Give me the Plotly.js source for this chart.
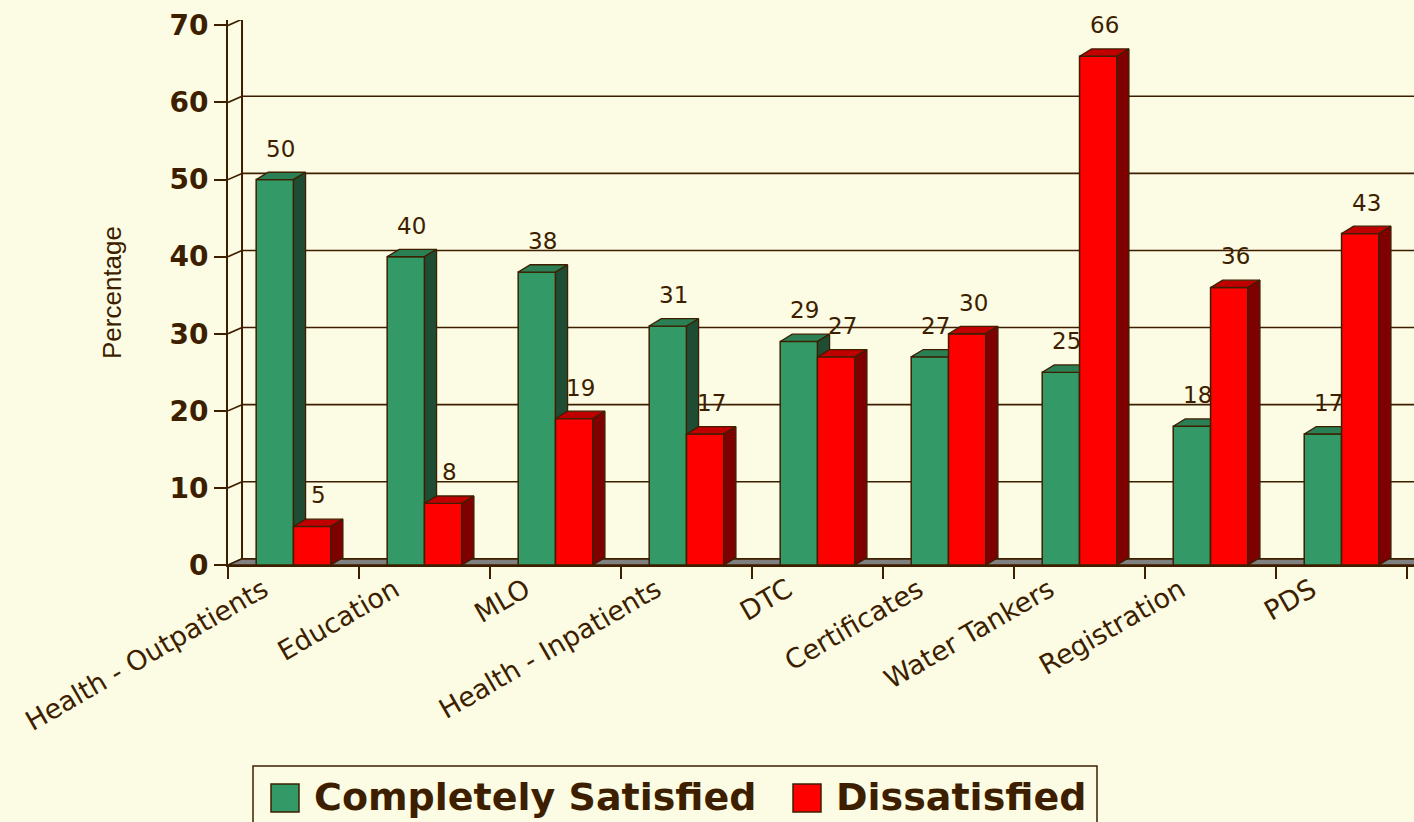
<!DOCTYPE html>
<html>
<head>
<meta charset="utf-8">
<script src="https://cdn.plot.ly/plotly-3.0.1.min.js"></script>
<style>
  html, body { margin: 0; padding: 0; background: #FCFBE3; }
  #chart { width: 1414px; height: 822px; }
</style>
</head>
<body>
<div id="chart"></div>
<script>
// ---- data ----
const categories = ['Health - Outpatients', 'Education', 'MLO', 'Health - Inpatients', 'DTC', 'Certificates', 'Water Tankers', 'Registration', 'PDS'];
const satisfied = [50, 40, 38, 31, 29, 27, 25, 18, 17];
const dissatisfied = [5, 8, 19, 17, 27, 30, 66, 36, 43];
const yTicks = [0, 10, 20, 30, 40, 50, 60, 70];
const seriesNames = ['Completely Satisfied', 'Dissatisfied'];

// ---- style ----
const BG = '#FCFBE3';
const INK = '#3d1f00';
const W = 0.285;          // bar width in category units
const DXB = 0.092, DYB = 0.95;   // bar depth offset (data units)
const DXW = 0.107, DYW = 0.8;    // wall depth offset
const XMIN = -0.5, XMAX = 8.553;
const YMAX = 70.7;
const M = {l: 228, r: 0, t: 20, b: 257};
const FIG_W = 1414, FIG_H = 822;
const PW = FIG_W - M.l - M.r, PH = FIG_H - M.t - M.b;
const px2x = p => (p - M.l) / PW;
const py2y = p => (FIG_H - M.b - p) / PH;

const seriesStyle = [
  {front: '#339966', top: '#2A7F55', side: '#1E4D34', off: -W, axis: 'x'},
  {front: '#FF0000', top: '#C00000', side: '#7F0000', off: 0, axis: 'x2'}
];
const seriesValues = [satisfied, dissatisfied];
const idx = categories.map((c, i) => i);

const traces = [];
const annotations = [];
seriesValues.forEach((vals, s) => {
  const st = seriesStyle[s];
  traces.push({
    type: 'bar', x: idx, y: vals, width: W, offset: st.off,
    xaxis: st.axis, yaxis: 'y', name: seriesNames[s], showlegend: false,
    marker: {color: st.front, line: {color: INK, width: 1.5}},
    hoverinfo: 'y'
  });
  const tx = [], ty = [], sx = [], sy = [];
  vals.forEach((v, i) => {
    const x0 = i + st.off, x1 = x0 + W;
    tx.push(x0, x0 + DXB, x1 + DXB, x1, x0, null);
    ty.push(v, v + DYB, v + DYB, v, v, null);
    sx.push(x1, x1, x1 + DXB, x1 + DXB, x1, null);
    sy.push(0, v, v + DYB, DYB, 0, null);
    annotations.push({
      xref: 'x', yref: 'y', x: x0 + W / 2 + DXB / 2, y: v, yshift: 31,
      text: String(v), showarrow: false, yanchor: 'middle',
      font: {family: 'DejaVu Sans', size: 23, color: INK}
    });
  });
  traces.push({type: 'scatter', mode: 'lines', x: tx, y: ty, fill: 'toself', fillcolor: st.top,
    line: {color: INK, width: 1.3}, xaxis: st.axis, yaxis: 'y', showlegend: false, hoverinfo: 'skip'});
  traces.push({type: 'scatter', mode: 'lines', x: sx, y: sy, fill: 'toself', fillcolor: st.side,
    line: {color: INK, width: 1.3}, xaxis: st.axis, yaxis: 'y', showlegend: false, hoverinfo: 'skip'});
});

// ---- back wall, gridlines, floor ----
const shapes = [];
yTicks.forEach(t => {
  if (t > 0) {
    shapes.push({type: 'line', xref: 'x', yref: 'y', layer: 'below',
      x0: XMIN + DXW, x1: XMAX + 1, y0: t + DYW, y1: t + DYW, line: {color: INK, width: 1.6}});
  }
  shapes.push({type: 'line', xref: 'x', yref: 'y', layer: 'below',
    x0: XMIN, x1: XMIN + DXW, y0: t, y1: t + DYW, line: {color: INK, width: 1.6}});
});
shapes.push({type: 'line', xref: 'x', yref: 'y', layer: 'below',
  x0: XMIN + DXW, x1: XMIN + DXW, y0: DYW, y1: yTicks[yTicks.length - 1] + DYW, line: {color: INK, width: 2}});
shapes.push({type: 'path', xref: 'x', yref: 'y', layer: 'below',
  path: `M ${XMIN},0 L ${XMAX + 1},0 L ${XMAX + 1},${DYW} L ${XMIN + DXW},${DYW} Z`,
  fillcolor: '#808080', line: {color: INK, width: 1.6}});

// ---- custom legend ----
shapes.push({type: 'rect', xref: 'paper', yref: 'paper', layer: 'above',
  x0: px2x(253), x1: px2x(1097), y0: py2y(766), y1: py2y(840),
  line: {color: INK, width: 1.5}, fillcolor: 'rgba(0,0,0,0)'});
const legendItems = [{sq: 271, tx: 312}, {sq: 793, tx: 834}];
legendItems.forEach((li, s) => {
  shapes.push({type: 'rect', xref: 'paper', yref: 'paper', layer: 'above',
    x0: px2x(li.sq), x1: px2x(li.sq + 28), y0: py2y(784), y1: py2y(812),
    fillcolor: seriesStyle[s].front, line: {color: INK, width: 1.5}});
  annotations.push({xref: 'paper', yref: 'paper', x: px2x(li.tx), y: py2y(797),
    xanchor: 'left', yanchor: 'middle', showarrow: false, text: seriesNames[s],
    font: {family: 'DejaVu Sans', size: 38, color: INK, weight: 'bold'}});
});

const layout = {
  width: FIG_W, height: FIG_H,
  margin: M,
  paper_bgcolor: BG, plot_bgcolor: BG,
  showlegend: false,
  barmode: 'overlay',
  font: {family: 'DejaVu Sans', color: INK},
  xaxis: {
    range: [XMIN, XMAX], showgrid: false, zeroline: false,
    tickmode: 'array', tickvals: idx.concat([idx.length]).map(i => i - 0.5),
    ticktext: idx.concat([idx.length]).map(() => ''),
    ticks: 'outside', ticklen: 12, tickwidth: 2, tickcolor: INK,
    showline: true, linecolor: INK, linewidth: 2
  },
  xaxis2: {
    overlaying: 'x', anchor: 'y', side: 'bottom',
    range: [XMIN, XMAX], showgrid: false, zeroline: false, showline: false,
    tickmode: 'array', tickvals: idx, ticktext: categories,
    ticks: '', tickangle: -30, ticklabelshift: -30, ticklabelstandoff: 3,
    tickfont: {family: 'DejaVu Sans', size: 27, color: INK}
  },
  yaxis: {
    range: [0, YMAX], showgrid: false, zeroline: false,
    tickmode: 'array', tickvals: yTicks,
    ticks: 'outside', ticklen: 12, tickwidth: 2, tickcolor: INK,
    showline: true, linecolor: INK, linewidth: 2,
    tickfont: {family: 'DejaVu Sans', size: 28, color: INK, weight: 'bold'},
    title: {text: 'Percentage', standoff: 40, font: {family: 'Liberation Sans', size: 26, color: INK}}
  },
  shapes: shapes,
  annotations: annotations
};

Plotly.newPlot('chart', traces, layout, {displayModeBar: false, staticPlot: true});
</script>
</body>
</html>
